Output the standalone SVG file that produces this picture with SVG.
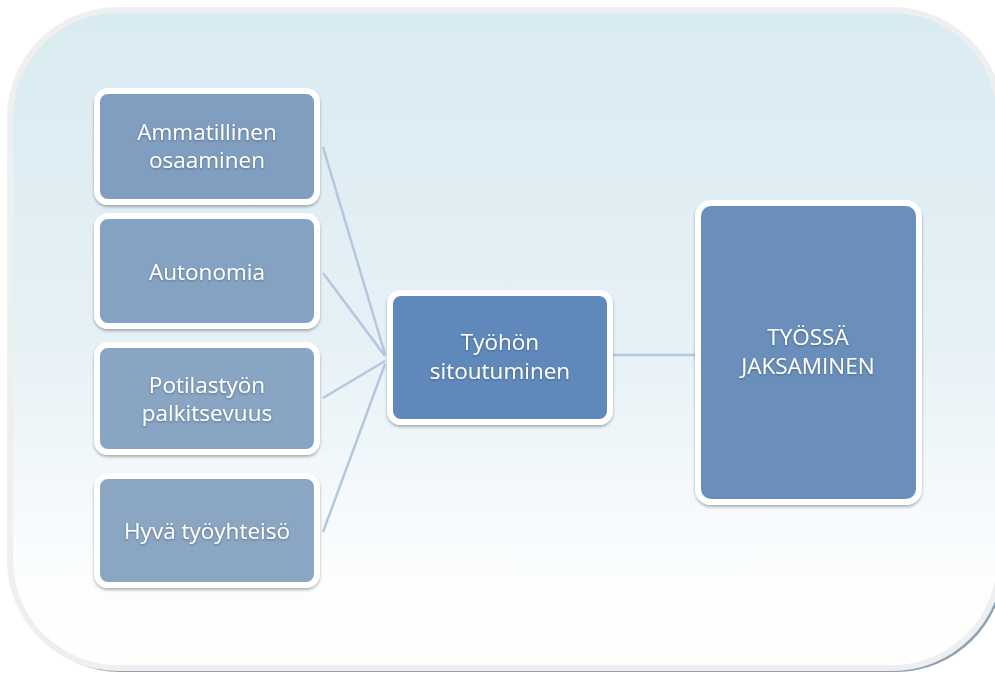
<svg xmlns="http://www.w3.org/2000/svg" width="995" height="677" viewBox="0 0 995 677">
<defs>
<linearGradient id="bg" x1="0" y1="0" x2="0" y2="1">
<stop offset="0" stop-color="#d9ebf2"/>
<stop offset="0.5" stop-color="#e6f1f6"/>
<stop offset="0.85" stop-color="#fbfdfe"/>
<stop offset="1" stop-color="#ffffff"/>
</linearGradient>
<filter id="sh" x="-10%" y="-10%" width="120%" height="125%">
<feDropShadow dx="0" dy="2" stdDeviation="1.5" flood-color="#000" flood-opacity="0.3"/>
</filter>
<filter id="tsh" x="-10%" y="-30%" width="120%" height="160%">
<feDropShadow dx="0" dy="1" stdDeviation="1.2" flood-color="#203040" flood-opacity="0.45"/>
</filter>
</defs>
<style>
.box{stroke:#ffffff;stroke-width:6;filter:url(#sh)}
.t{font-family:"Open Sans","Liberation Sans",sans-serif;font-size:22.5px;fill:#ffffff;text-anchor:middle;filter:url(#tsh)}
.c{stroke:#b3c8e0;stroke-width:2.5;fill:none}
</style>
<rect width="995" height="677" fill="#ffffff"/>
<g id="frame">
<rect x="12" y="12" width="992" height="660" rx="108" fill="#8ea1b5"/>
<rect x="10" y="10" width="990" height="658" rx="108" fill="url(#bg)" stroke="#efefef" stroke-width="6"/>
</g>
<g id="connectors">
<line class="c" x1="323" y1="147" x2="385" y2="354"/>
<line class="c" x1="323" y1="273" x2="385" y2="356"/>
<line class="c" x1="323" y1="398" x2="385" y2="361"/>
<line class="c" x1="323" y1="532" x2="385" y2="364"/>
<line class="c" x1="612" y1="355" x2="695" y2="355"/>
</g>
<g id="n1">
<rect class="box" x="97" y="91" width="220" height="111" rx="11" fill="#7f9ec0"/>
<text class="t" x="207" y="140">Ammatillinen</text>
<text class="t" x="207" y="168">osaaminen</text>
</g>
<g id="n2">
<rect class="box" x="97" y="216" width="220" height="110" rx="11" fill="#84a2c2"/>
<text class="t" x="207" y="280">Autonomia</text>
</g>
<g id="n3">
<rect class="box" x="97" y="345" width="220" height="107" rx="11" fill="#88a5c3"/>
<text class="t" x="207" y="393">Potilastyön</text>
<text class="t" x="207" y="421">palkitsevuus</text>
</g>
<g id="n4">
<rect class="box" x="97" y="476" width="220" height="109" rx="11" fill="#8ba6c3"/>
<text class="t" x="207" y="539">Hyvä työyhteisö</text>
</g>
<g id="center">
<rect class="box" x="390" y="293" width="220" height="129" rx="11" fill="#6089bb"/>
<text class="t" x="500" y="350">Työhön</text>
<text class="t" x="500" y="379">sitoutuminen</text>
</g>
<g id="right">
<rect class="box" x="698" y="203" width="221" height="299" rx="13" fill="#6a8fbb"/>
<text class="t" x="808" y="345">TYÖSSÄ</text>
<text class="t" x="808" y="374">JAKSAMINEN</text>
</g>
</svg>
